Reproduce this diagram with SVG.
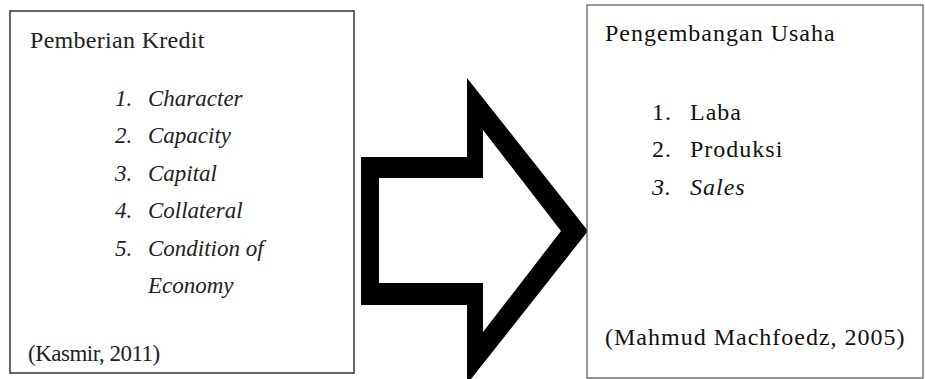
<svg xmlns="http://www.w3.org/2000/svg" width="925" height="379" viewBox="0 0 925 379">
<style>
.box{fill:#fff;stroke:#333;stroke-width:1.5}
.box2{fill:#fff;stroke:#555;stroke-width:1.2}
.t{font-family:"Liberation Serif","Times New Roman",serif;font-size:23px;fill:#222}
.r{font-size:24px;letter-spacing:1px;fill:#111}
.i{font-style:italic}
.arrow{fill:#000;fill-rule:evenodd}
</style>
<rect width="925" height="379" fill="#fff"/>
<g id="pemberian-kredit">
<rect class="box" x="10" y="11" width="344" height="362"/>
<text class="t" x="30" y="48" style="font-size:24px;letter-spacing:0.3px">Pemberian Kredit</text>
<text class="t i" x="115" y="106">1.</text><text class="t i" x="148" y="106">Character</text>
<text class="t i" x="115" y="143">2.</text><text class="t i" x="148" y="143">Capacity</text>
<text class="t i" x="115" y="181">3.</text><text class="t i" x="148" y="181">Capital</text>
<text class="t i" x="115" y="218">4.</text><text class="t i" x="148" y="218">Collateral</text>
<text class="t i" x="115" y="256">5.</text><text class="t i" x="148" y="256">Condition of</text>
<text class="t i" x="148" y="293">Economy</text>
<text class="t" x="28" y="361" style="letter-spacing:-0.5px">(Kasmir, 2011)</text>
</g>
<g id="connectors">
<path class="arrow" d="M361,157 H467 V78 L588,231 L467,384 V305 H361 Z M379,178 V283 H483 V332 L561,231 L483,130 V178 Z"/>
</g>
<g id="pengembangan-usaha">
<rect class="box2" x="587" y="5" width="336" height="373"/>
<text class="t r" x="605" y="41">Pengembangan Usaha</text>
<text class="t r" x="652" y="120">1.</text><text class="t r" x="690" y="120">Laba</text>
<text class="t r" x="652" y="157">2.</text><text class="t r" x="690" y="157">Produksi</text>
<text class="t r i" x="652" y="195">3.</text><text class="t r i" x="690" y="195">Sales</text>
<text class="t r" x="605" y="345">(Mahmud Machfoedz, 2005)</text>
</g>
</svg>
